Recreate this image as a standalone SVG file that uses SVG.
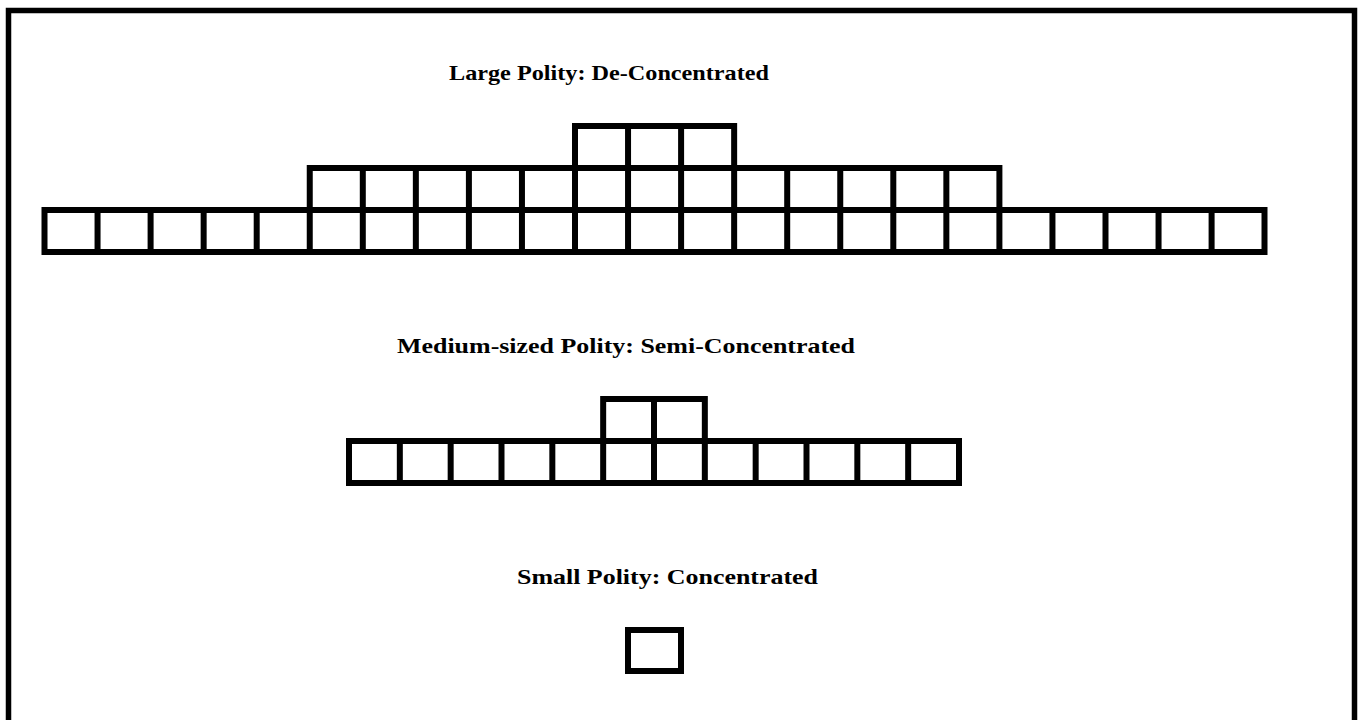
<svg xmlns="http://www.w3.org/2000/svg" width="1361" height="720" viewBox="0 0 1361 720">
<defs>
<style>
.t{font-family:"Liberation Serif","Times New Roman",serif;font-weight:bold;font-size:22px;fill:#000}
.c{fill:none;stroke:#000;stroke-width:6;stroke-linejoin:miter}
.frame{fill:#fff;stroke:#000;stroke-width:5.5}
</style>
</defs>
<rect width="1361" height="720" fill="#fff"/>
<rect class="frame" x="8.5" y="10.5" width="1346" height="720"/>
<g id="large">
<text class="t" x="449" y="80" textLength="320" lengthAdjust="spacingAndGlyphs">Large Polity: De-Concentrated</text>
<g class="c">
<rect x="44.5" y="210" width="1220" height="42"/>
<path d="M97.55 210V252M150.6 210V252M203.65 210V252M256.7 210V252M309.75 210V252M362.8 210V252M415.85 210V252M468.9 210V252M521.95 210V252M575 210V252M628.05 210V252M681.1 210V252M734.15 210V252M787.2 210V252M840.25 210V252M893.3 210V252M946.35 210V252M999.4 210V252M1052.45 210V252M1105.5 210V252M1158.55 210V252M1211.6 210V252"/>
<rect x="309.75" y="168" width="689.65" height="42"/>
<path d="M362.8 168V210M415.85 168V210M468.9 168V210M521.95 168V210M575 168V210M628.05 168V210M681.1 168V210M734.15 168V210M787.2 168V210M840.25 168V210M893.3 168V210M946.35 168V210"/>
<rect x="575" y="126" width="159.15" height="42"/>
<path d="M628.05 126V168M681.1 126V168"/>
</g>
</g>
<g id="medium">
<text class="t" x="397" y="353" textLength="458" lengthAdjust="spacingAndGlyphs">Medium-sized Polity: Semi-Concentrated</text>
<g class="c">
<rect x="349" y="441" width="610" height="42"/>
<path d="M399.83 441V483M450.67 441V483M501.5 441V483M552.33 441V483M603.17 441V483M654 441V483M704.83 441V483M755.67 441V483M806.5 441V483M857.33 441V483M908.17 441V483"/>
<rect x="603.17" y="399" width="101.66" height="42"/>
<path d="M654 399V441"/>
</g>
</g>
<g id="small">
<text class="t" x="517" y="584" textLength="301" lengthAdjust="spacingAndGlyphs">Small Polity: Concentrated</text>
<rect class="c" x="628" y="630" width="53" height="41"/>
</g>
<g id="connectors"/>
</svg>
